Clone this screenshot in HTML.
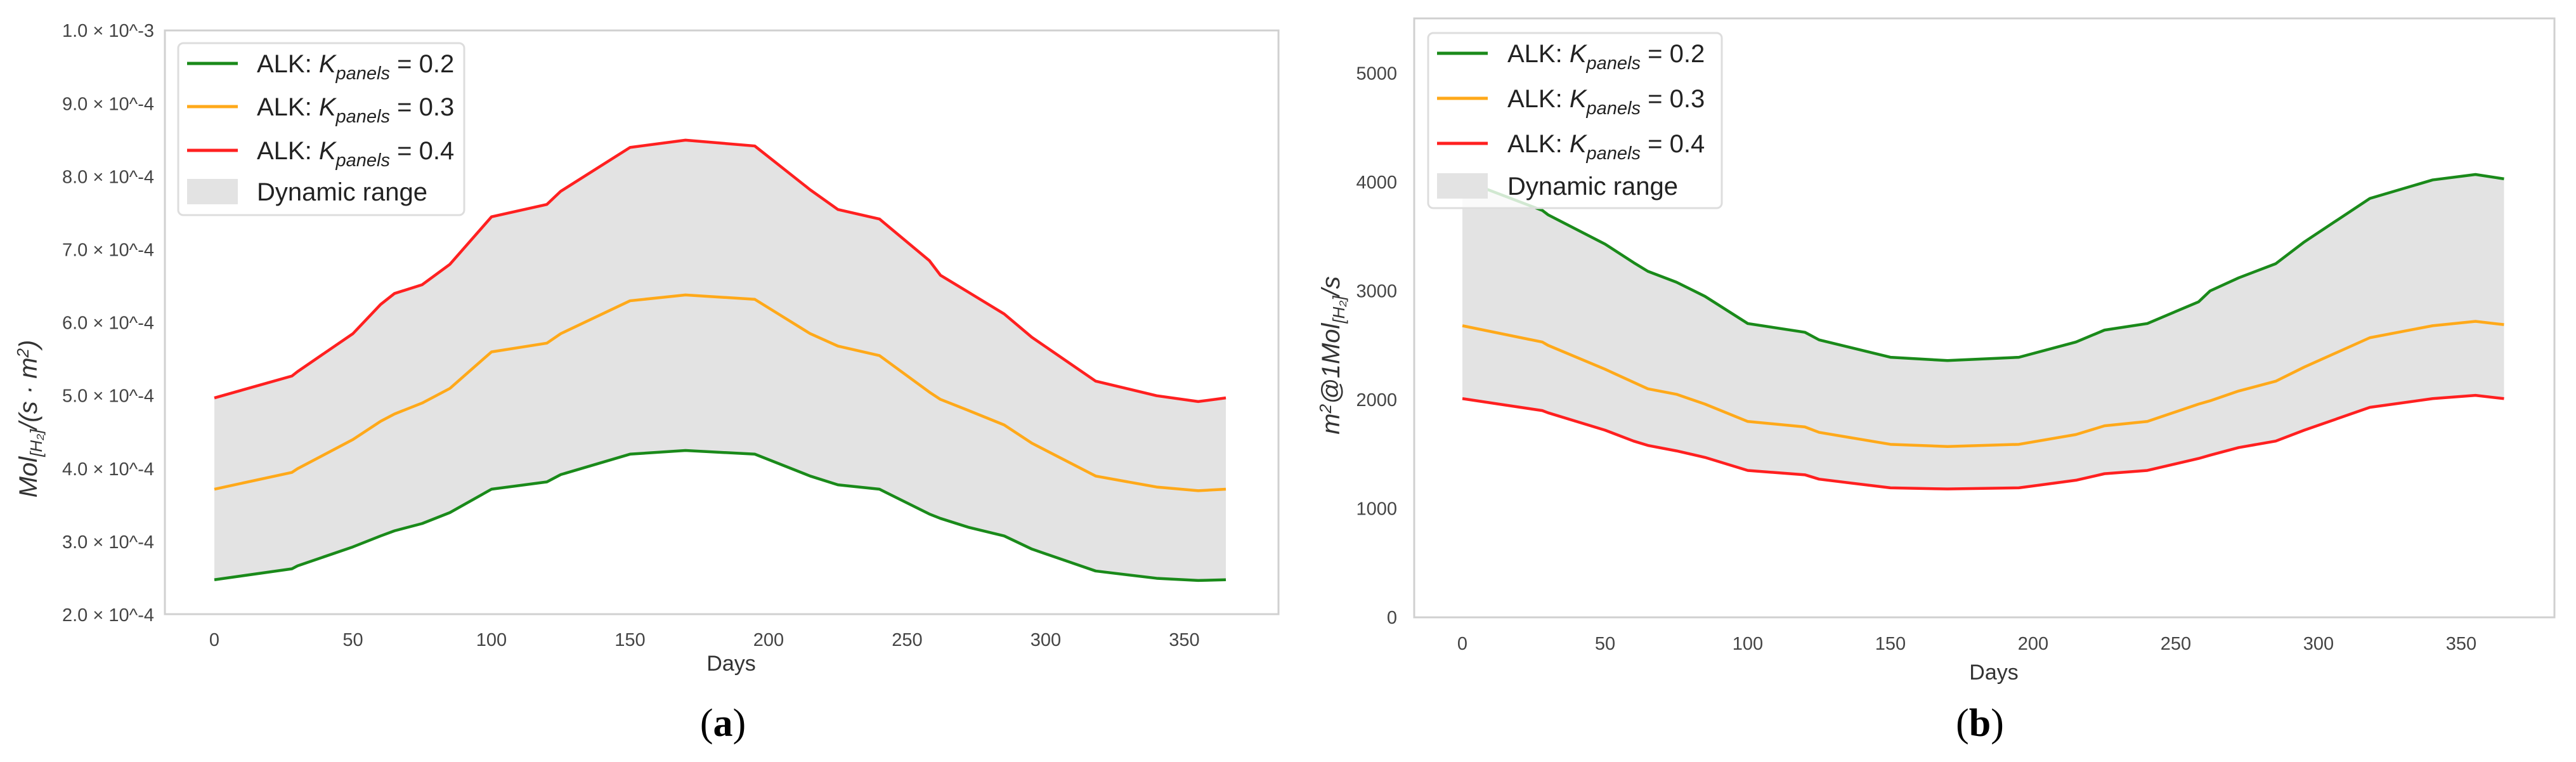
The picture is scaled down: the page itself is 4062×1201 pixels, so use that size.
<!DOCTYPE html>
<html><head><meta charset="utf-8"><style>
html,body{margin:0;padding:0;background:#fff;}
svg{display:block;font-family:"Liberation Sans",Arial,sans-serif;}
</style></head><body>
<svg id="svg" width="4062" height="1201" viewBox="0 0 4062 1201" xmlns="http://www.w3.org/2000/svg">
<g id="pa"></g>
<g id="pb"></g>
</svg>
<script>
const days = [0,28,30,50,60,65,75,85,100,120,125,150,170,195,215,225,240,258,262,272,285,295,318,340,355,365];
// Panel (a) values in units of 1e-4
const aRed =    [4.97,5.27,5.33,5.85,6.25,6.4,6.52,6.8,7.45,7.62,7.8,8.4,8.5,8.42,7.82,7.55,7.42,6.85,6.65,6.42,6.12,5.8,5.2,5.0,4.92,4.97];
const aOrange = [3.72,3.95,4.0,4.4,4.65,4.75,4.9,5.1,5.6,5.72,5.85,6.3,6.38,6.32,5.85,5.68,5.55,5.05,4.95,4.8,4.6,4.35,3.9,3.75,3.7,3.72];
const aGreen =  [2.48,2.63,2.67,2.93,3.08,3.15,3.25,3.4,3.72,3.82,3.92,4.2,4.25,4.2,3.9,3.78,3.72,3.38,3.32,3.2,3.08,2.9,2.6,2.5,2.47,2.48];
// Panel (b) values
const bGreen =  [4020,3740,3700,3430,3260,3180,3080,2950,2700,2620,2550,2390,2360,2390,2530,2640,2700,2900,3000,3120,3250,3450,3850,4020,4070,4030];
const bOrange = [2680,2530,2500,2280,2160,2100,2050,1960,1800,1750,1700,1590,1570,1590,1680,1760,1800,1960,1990,2080,2170,2300,2570,2680,2720,2690];
const bRed =    [2010,1900,1880,1720,1620,1580,1530,1470,1350,1310,1270,1190,1180,1190,1260,1320,1350,1460,1490,1560,1620,1720,1930,2010,2040,2010];
const xTicks = [0,50,100,150,200,250,300,350];
const aYTicks = ["2.0","3.0","4.0","5.0","6.0","7.0","8.0","9.0","1.0"];
const aYVals = [2,3,4,5,6,7,8,9,10];
const bYTicks = [0,1000,2000,3000,4000,5000];

const NS="http://www.w3.org/2000/svg";
function mk(tag,attrs,parent,text){const e=document.createElementNS(NS,tag);for(const k in attrs)e.setAttribute(k,attrs[k]);if(text!==undefined)e.textContent=text;parent.appendChild(e);return e;}

function panel(g,cfg){
  const xs=d=>cfg.x0+d*cfg.kx, ys=v=>cfg.y0-(v-cfg.vmin)*cfg.ky;
  let d="M"+days.map((t,i)=>xs(t)+","+ys(cfg.hi[i])).join(" L");
  for(let i=days.length-1;i>=0;i--) d+=" L"+xs(days[i])+","+ys(cfg.lo[i]);
  const f=mk('path',{d:d+"Z",fill:'#e3e3e3',stroke:'none'},g);
  
  
  const fr=mk('rect',{x:cfg.fx0,y:cfg.fy0,width:cfg.fx1-cfg.fx0,height:cfg.fy1-cfg.fy0,fill:'none',stroke:'#d0d0d0','stroke-width':3},g);
  
  
  cfg.series.forEach(s=>{
    const p=mk('path',{d:"M"+days.map((t,i)=>xs(t)+","+ys(s.v[i])).join(" L"),fill:'none',stroke:s.c,'stroke-width':4.5,'stroke-linejoin':'round'},g);
    
    
  });
  xTicks.forEach(t=>{
    const e=mk('text',{x:xs(t),y:cfg.xty,'font-size':29,fill:'#444','text-anchor':'middle'},g,String(t));
    
    
  });
  cfg.yt.forEach((v,i)=>{
    const e=mk('text',{x:cfg.ytx,y:ys(v)+10,'font-size':29,fill:'#444','text-anchor':'end'},g,cfg.ylab[i]);
    
    
  });
  const xl=mk('text',{x:(cfg.fx0+cfg.fx1)/2+15,y:cfg.xly,'font-size':34,fill:'#333','text-anchor':'middle'},g,'Days');
  
  
  const L=cfg.leg;
  const lb=mk('rect',{x:L.x0,y:L.y0,width:L.x1-L.x0,height:L.y1-L.y0,rx:8,fill:'#fff','fill-opacity':0.8,stroke:'#ddd','stroke-width':3},g);
  
  
  const labels=['0.2','0.3','0.4'],cols=['#1a8a1a','#ffa91a','#ff2020'];
  for(let i=0;i<3;i++){
    const y=L.ys[i];
    const ln=mk('line',{x1:L.hx,x2:L.hx+80,y1:y,y2:y,stroke:cols[i],'stroke-width':5},g);
    
    
    const t=mk('text',{x:L.tx,y:y+14,'font-size':40,fill:'#222'},g);
    
    
    mk('tspan',{},t,'ALK: ');
    mk('tspan',{'font-style':'italic'},t,'K');
    mk('tspan',{'font-style':'italic','font-size':29,dy:11},t,'panels');
    mk('tspan',{dy:-11},t,' = '+labels[i]);
  }
  const sw=mk('rect',{x:L.hx,y:L.ys[3]-20,width:80,height:40,fill:'#e3e3e3'},g);
  
  
  const dt=mk('text',{x:L.tx,y:L.ys[3]+14,'font-size':40,fill:'#222'},g,'Dynamic range');
  
  
}

const ga=document.getElementById('pa'), gb=document.getElementById('pb');
panel(ga,{x0:338,kx:4.37,y0:969,vmin:2,ky:115.1,hi:aRed,lo:aGreen,
  fx0:260,fx1:2016,fy0:48,fy1:968,xty:1018,ytx:243,xly:1057,
  yt:aYVals,ylab:aYTicks.map((s,i)=>s+" × 10^"+(i==8?"-3":"-4")),
  series:[{v:aGreen,c:'#1a8a1a',n:'line-k02'},{v:aOrange,c:'#ffa91a',n:'line-k03'},{v:aRed,c:'#ff2020',n:'line-k04'}],
  leg:{x0:281,x1:732,y0:68,y1:339,ys:[100,168,237,302],hx:295,tx:405}});
panel(gb,{x0:2306,kx:4.5,y0:973,vmin:0,ky:0.1715,hi:bGreen,lo:bRed,
  fx0:2230,fx1:4028,fy0:29,fy1:973,xty:1024,ytx:2203,xly:1071,
  yt:bYTicks,ylab:bYTicks.map(String),
  series:[{v:bGreen,c:'#1a8a1a',n:'line-k02'},{v:bOrange,c:'#ffa91a',n:'line-k03'},{v:bRed,c:'#ff2020',n:'line-k04'}],
  leg:{x0:2252,x1:2715,y0:52,y1:328,ys:[84,155,226,293],hx:2266,tx:2377}});
const ya=mk('text',{transform:'translate(58,660) rotate(-90)','font-size':40,fill:'#333','text-anchor':'middle','font-style':'italic'},ga);


mk('tspan',{},ya,'Mol');mk('tspan',{'font-size':26,dy:8},ya,'[H₂]');mk('tspan',{dy:-8},ya,'/(s · m');mk('tspan',{'font-size':26,dy:-13},ya,'2');mk('tspan',{dy:13},ya,')');
const yb=mk('text',{transform:'translate(2112,560) rotate(-90)','font-size':40,fill:'#333','text-anchor':'middle','font-style':'italic'},gb);


mk('tspan',{},yb,'m');mk('tspan',{'font-size':26,dy:-13},yb,'2');mk('tspan',{dy:13},yb,'@1Mol');mk('tspan',{'font-size':26,dy:8},yb,'[H₂]');mk('tspan',{dy:-8},yb,'/s');
const ca=mk('text',{x:1140,y:1160,'font-size':62,fill:'#000','text-anchor':'middle','font-family':'Liberation Serif, serif'},ga);


mk('tspan',{},ca,'(');mk('tspan',{'font-weight':'bold'},ca,'a');mk('tspan',{},ca,')');
const cb=mk('text',{x:3122,y:1160,'font-size':62,fill:'#000','text-anchor':'middle','font-family':'Liberation Serif, serif'},gb);


mk('tspan',{},cb,'(');mk('tspan',{'font-weight':'bold'},cb,'b');mk('tspan',{},cb,')');
</script>
</body></html>
